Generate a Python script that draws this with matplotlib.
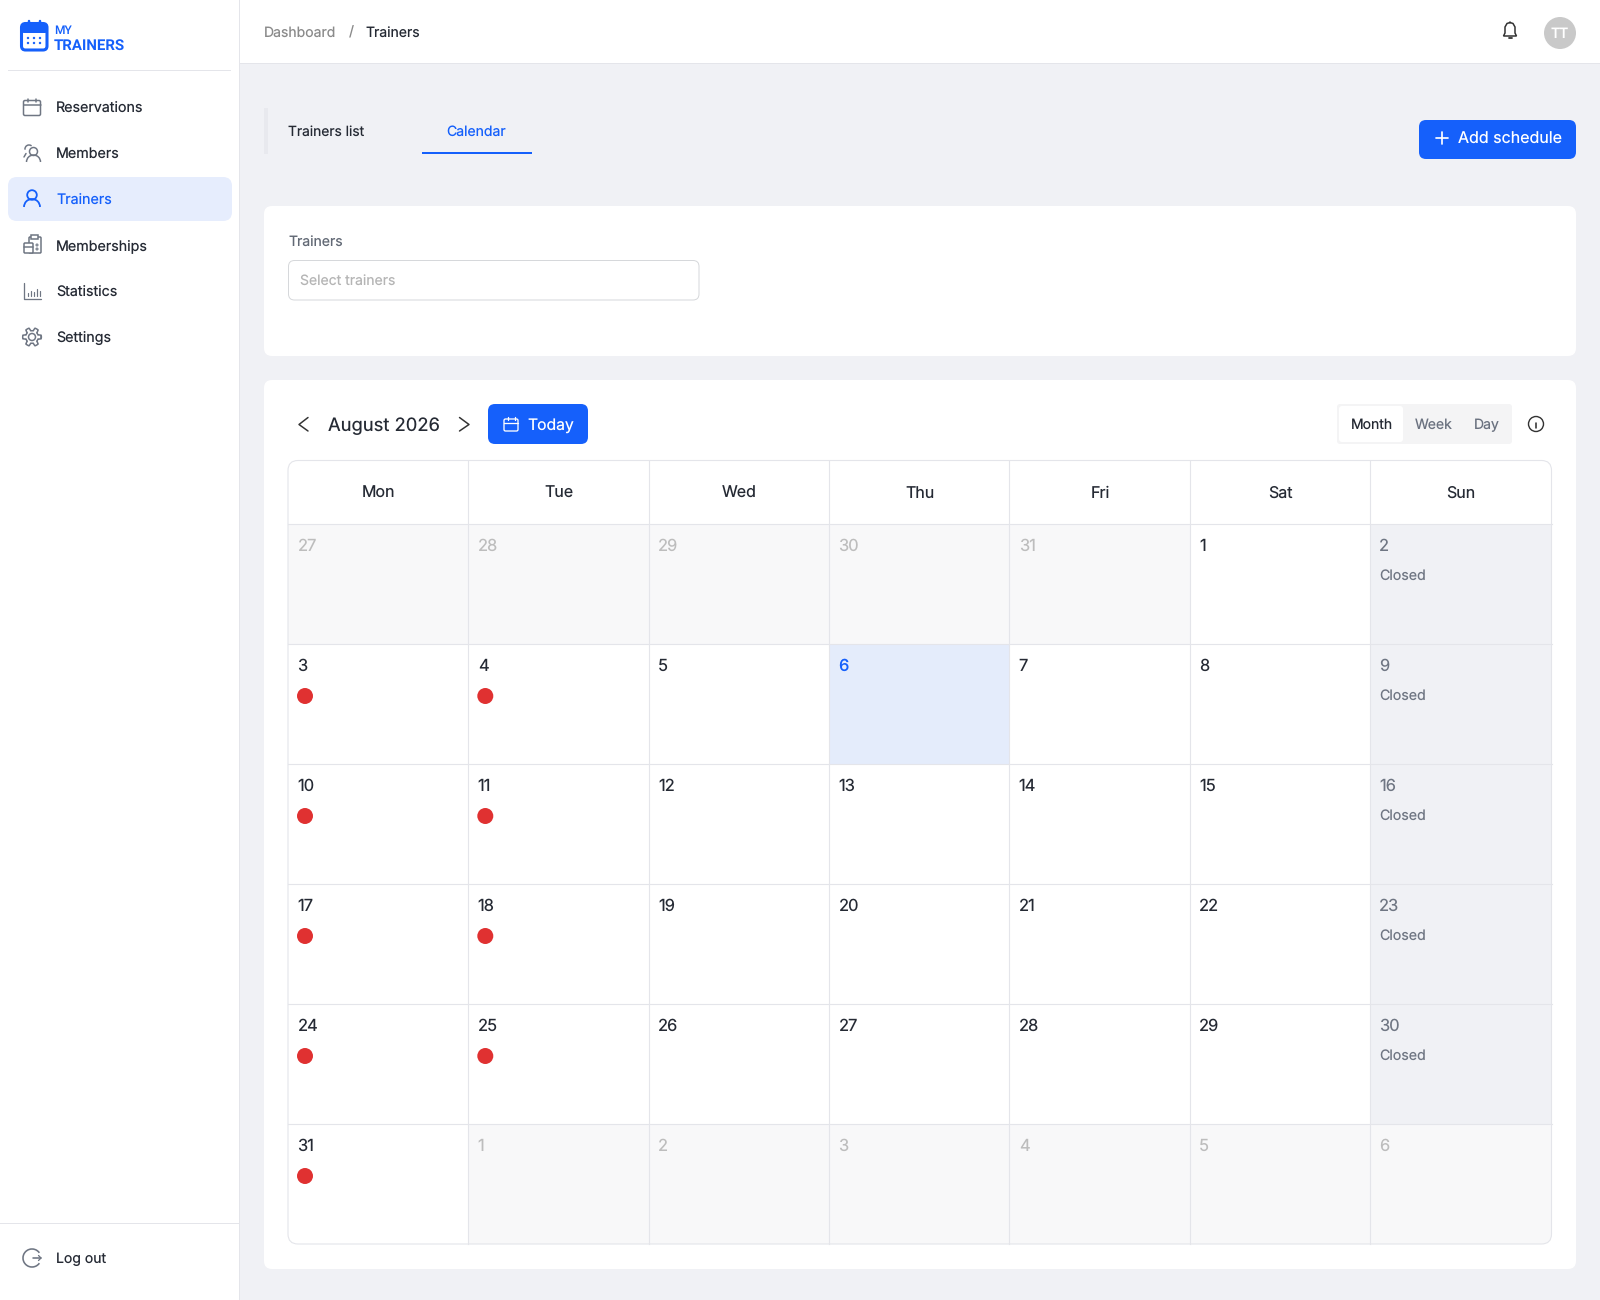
import numpy as np
import matplotlib
matplotlib.use('Agg')
import matplotlib.pyplot as plt
from matplotlib.patches import FancyBboxPatch, Circle, Rectangle, Arc, Polygon

plt.rcParams['font.family'] = ['Inter', 'DejaVu Sans']
plt.rcParams['text.hinting'] = 'no_hinting'
plt.rcParams['text.hinting_factor'] = 1

# data
nav_items = ['Reservations', 'Members', 'Trainers', 'Memberships', 'Statistics', 'Settings']
weekdays = ['Mon', 'Tue', 'Wed', 'Thu', 'Fri', 'Sat', 'Sun']
weeks = [
    [27, 28, 29, 30, 31, 1, 2],
    [3, 4, 5, 6, 7, 8, 9],
    [10, 11, 12, 13, 14, 15, 16],
    [17, 18, 19, 20, 21, 22, 23],
    [24, 25, 26, 27, 28, 29, 30],
    [31, 1, 2, 3, 4, 5, 6],
]
event_days = [3, 4, 10, 11, 17, 18, 24, 25, 31]
today_day = 6
view_modes = ['Month', 'Week', 'Day']

BLUE = '#1560FB'
INK = '#252A34'
GREY = '#6F7683'
LINE = '#E4E5EA'
PAGE = '#F0F1F5'

fig = plt.figure(figsize=(16, 13), dpi=100, facecolor=PAGE)
ax = fig.add_axes([0, 0, 1, 1])
ax.set_xlim(0, 1600)
ax.set_ylim(1300, 0)
ax.axis('off')


def box(x0, y0, x1, y1, color, radius=0, edge='none', lw=0, z=1):
    if radius:
        p = FancyBboxPatch((x0 + radius, y0 + radius), x1 - x0 - 2 * radius, y1 - y0 - 2 * radius,
                           boxstyle=f'round,pad={radius},rounding_size={radius}',
                           fc=color, ec=edge, lw=lw, zorder=z)
    else:
        p = Rectangle((x0, y0), x1 - x0, y1 - y0, fc=color, ec=edge, lw=lw, zorder=z)
    ax.add_patch(p)
    return p


def label(x, y, s, px=14, color=INK, ha='left', weight='normal', **kw):
    # y is the middle of the capitals, baseline sits 0.36 em below it
    ax.text(x, y + 0.36 * px, s, fontsize=px * 0.72, color=color, ha=ha, va='baseline',
            fontweight=weight, zorder=6, **kw)


def stroke(xs, ys, color=GREY, w=1.5):
    ax.plot(xs, ys, color=color, lw=w * 0.72, solid_capstyle='round', zorder=6)


def ring(x, y, r, color=GREY, w=1.5):
    ax.add_patch(Circle((x, y), r, fc='none', ec=color, lw=w * 0.72, zorder=6))


def arc(x, y, d, t0, t1, color=GREY, w=1.5):
    ax.add_patch(Arc((x, y), d, d, theta1=t0, theta2=t1, ec=color, lw=w * 0.72, zorder=6))


def calendar_icon(x, y, s, color, w=1.5):
    h = s / 2
    box(x - h, y - h + 2, x + h, y + h, 'none', radius=1.5, edge=color, lw=w * 0.72, z=6)
    stroke([x - h, x + h], [y - h + 6, y - h + 6], color, w)
    stroke([x - h / 2, x - h / 2], [y - h, y - h + 3], color, w)
    stroke([x + h / 2, x + h / 2], [y - h, y - h + 3], color, w)


# sidebar and top bar
box(0, 0, 239, 1300, 'white', z=2)
box(239, 0, 240, 1300, LINE, z=2)
box(240, 0, 1600, 63, 'white', z=2)
box(240, 63, 1600, 64, LINE, z=2)
box(8, 70, 231, 71, LINE, z=3)
box(0, 1223, 239, 1224, LINE, z=3)

# logo
box(21.5, 23.5, 47, 50, 'none', radius=4, edge=BLUE, lw=2.2, z=6)
box(21, 24, 48, 33, BLUE, radius=3, z=5)
stroke([28.5, 28.5], [20.5, 25], BLUE, 2.5)
stroke([40, 40], [20.5, 25], BLUE, 2.5)
for yy in (38, 43):
    for xx in (28, 34, 40):
        ax.add_patch(Circle((xx, yy), 1.2, fc=BLUE, ec='none', zorder=6))
label(54, 30, 'MY', 12, BLUE, weight='medium', family='Roboto')
label(54, 44, 'TRAINERS', 15, BLUE, weight='bold', family='Roboto')

# nav
box(8, 177, 232, 221, '#E6EDFD', radius=9, z=3)
nav_y = 107 + 46 * np.arange(len(nav_items))
for name, y in zip(nav_items, nav_y):
    active = name == 'Trainers'
    label(56, y, name, 14.3, BLUE if active else INK)
    c = BLUE if active else GREY
    if name == 'Reservations':
        calendar_icon(32, y, 17, c)
    elif name == 'Members':
        ring(33.5, y - 1.5, 4, c)
        arc(33.5, y + 9, 14, 180, 360, c)
        arc(29, y - 4, 8, 170, 310, c)
        stroke([24, 26], [y + 4, y + 0.5], c)
    elif name == 'Trainers':
        ring(32, y - 4, 4.8, c, 1.8)
        arc(32, y + 8, 16, 180, 360, c, 1.8)
    elif name == 'Memberships':
        box(29, y - 8, 41, y + 8, 'none', radius=1, edge=c, lw=1.1, z=6)
        box(24, y - 2, 33, y + 8, 'white', radius=1, edge=c, lw=1.1, z=6)
        box(31, y - 10, 38, y - 6, 'white', edge=c, lw=1.1, z=6)
        stroke([24, 33], [y + 2, y + 2], c)
        ring(37, y, 1, c, 1)
        ring(37, y + 4, 1, c, 1)
    elif name == 'Statistics':
        stroke([24, 24, 41], [y - 8, y + 8, y + 8], c, 1.3)
        for bx, bh in zip((28, 31, 34, 37, 40), (3, 5, 4, 7, 5)):
            stroke([bx, bx], [y + 5, y + 5 - bh], c, 1.2)
    else:
        ring(32, y, 3.5, c)
        t = np.linspace(0, 2 * np.pi, 97)
        rad = 7.8 + 1.5 * np.clip(np.cos(6 * t) * 3, -1, 1)
        ax.plot(32 + rad * np.cos(t), y + rad * np.sin(t), color=c, lw=1.1, zorder=6)

# log out
label(56, 1258, 'Log out', 14)
arc(32, 1258, 18, 35, 325, GREY, 1.6)
stroke([33, 41], [1258, 1258], GREY, 1.6)
stroke([38.5, 41, 38.5], [1255.5, 1258, 1260.5], GREY, 1.3)

# breadcrumb and top right
label(264, 31.5, 'Dashboard', 14, '#8B8B8B')
label(351, 31.5, '/', 14, '#8B8B8B', ha='center')
label(365, 31.5, 'Trainers', 14, INK)
bell_x = 1510
ax.add_patch(Polygon([(bell_x - 6.5, 36), (bell_x - 5, 33), (bell_x - 5, 27), (bell_x - 3, 23.5),
                      (bell_x, 22.5), (bell_x + 3, 23.5), (bell_x + 5, 27), (bell_x + 5, 33),
                      (bell_x + 6.5, 36)], closed=True, fc='none', ec='#333333', lw=1.1, zorder=6))
stroke([bell_x, bell_x], [21.5, 23], '#333333', 1.5)
stroke([bell_x - 1.5, bell_x + 1.5], [38, 38], '#333333', 1.8)
ax.add_patch(Circle((1560, 33), 16, fc='#C9C9C9', ec='none', zorder=5))
label(1560, 33, 'TT', 14, 'white', ha='center', weight='medium')

# tabs
box(264, 108, 268, 154, '#E8E9EE', z=2)
label(288, 131, 'Trainers list', 13.8, INK)
label(446, 131, 'Calendar', 14, BLUE)
box(422, 152, 532, 153.5, BLUE, z=3)
box(1419, 120, 1576, 159, BLUE, radius=7, z=3)
stroke([1442, 1442], [132, 144], 'white', 1.7)
stroke([1436, 1448], [138, 138], 'white', 1.7)
label(1458, 138, 'Add schedule', 16, 'white')

# filter card
box(264, 206, 1576, 356, 'white', radius=8, z=2)
label(288, 241, 'Trainers', 14, '#626975')
box(288.5, 260.5, 699, 300, 'white', radius=6, edge='#D5D7DA', lw=0.7, z=3)
label(300, 280, 'Select trainers', 14, '#B5B5B5')

# calendar card
box(264, 380, 1576, 1269, 'white', radius=8, z=2)
stroke([308, 299, 308], [417.5, 424.5, 431], '#333333', 1.5)
stroke([459.5, 469, 459.5], [417.5, 424.5, 431], '#333333', 1.5)
label(328, 424, 'August 2026', 18.4, INK)
box(488, 404, 588, 444, BLUE, radius=7, z=3)
calendar_icon(511, 424, 14, 'white', 1.3)
label(527, 424, 'Today', 15.7, 'white')

box(1337, 404, 1512, 444, '#F4F4F5', radius=3, z=3)
box(1339, 406, 1403, 442, 'white', radius=3, z=4)
for mode, cx in zip(view_modes, (1371.5, 1433.5, 1486.5)):
    label(cx, 424, mode, 14, INK if mode == 'Month' else '#6B7280', ha='center')
ring(1536, 424, 7.5, '#333333', 1.4)
stroke([1536, 1536], [423, 428], '#333333', 1.6)
stroke([1536, 1536], [420, 420.2], '#333333', 1.8)

# calendar grid
grid_l, grid_r, grid_t, head_b, grid_b = 288, 1551.5, 460.5, 524, 1244
col_w = 180.3
row_h = (grid_b - head_b) / len(weeks)
frame = box(grid_l, grid_t, grid_r, grid_b, 'none', radius=10, edge=LINE, lw=0.8, z=5)
clip = box(grid_l, grid_t, grid_r, grid_b, 'none', radius=10, z=1)

for c, name in enumerate(weekdays):
    label(grid_l + col_w * (c + 0.5) + 0.7, 492, name, 16, INK, ha='center')

for r, week in enumerate(weeks):
    top = head_b + r * row_h
    for c, day in enumerate(week):
        left = grid_l + c * col_w
        right = grid_r if c == len(week) - 1 else left + col_w
        outside = (r == 0 and day > 7) or (r == len(weeks) - 1 and day < 7)
        is_today = day == today_day and not outside
        closed = c == 6 and not outside
        bg = 'white'
        if outside:
            bg = '#F8F8F9'
        elif closed:
            bg = PAGE
        elif is_today:
            bg = '#E4ECFB'
        cell = box(left, top, right, top + row_h, bg, z=3)
        cell.set_clip_path(clip)
        col = INK
        if outside:
            col = '#BDBDBD'
        elif closed:
            col = GREY
        elif is_today:
            col = BLUE
        label(left + 9.5, top + 21, str(day), 16.5, col, weight='medium' if is_today else 'normal')
        if closed:
            label(left + 9.5, top + 51, 'Closed', 14.2, GREY)
        if day in event_days and not outside:
            ax.add_patch(Circle((left + 17, top + 52), 8, fc='#E03131', ec='none', zorder=6))

for c in range(1, len(weekdays)):
    x = grid_l + c * col_w
    ax.plot([x, x], [grid_t, grid_b], color=LINE, lw=0.8, zorder=5)
for r in range(len(weeks)):
    y = head_b + r * row_h
    ax.plot([grid_l, grid_r], [y, y], color=LINE, lw=0.8, zorder=5)

fig.savefig('out.png', dpi=100, facecolor=PAGE)
